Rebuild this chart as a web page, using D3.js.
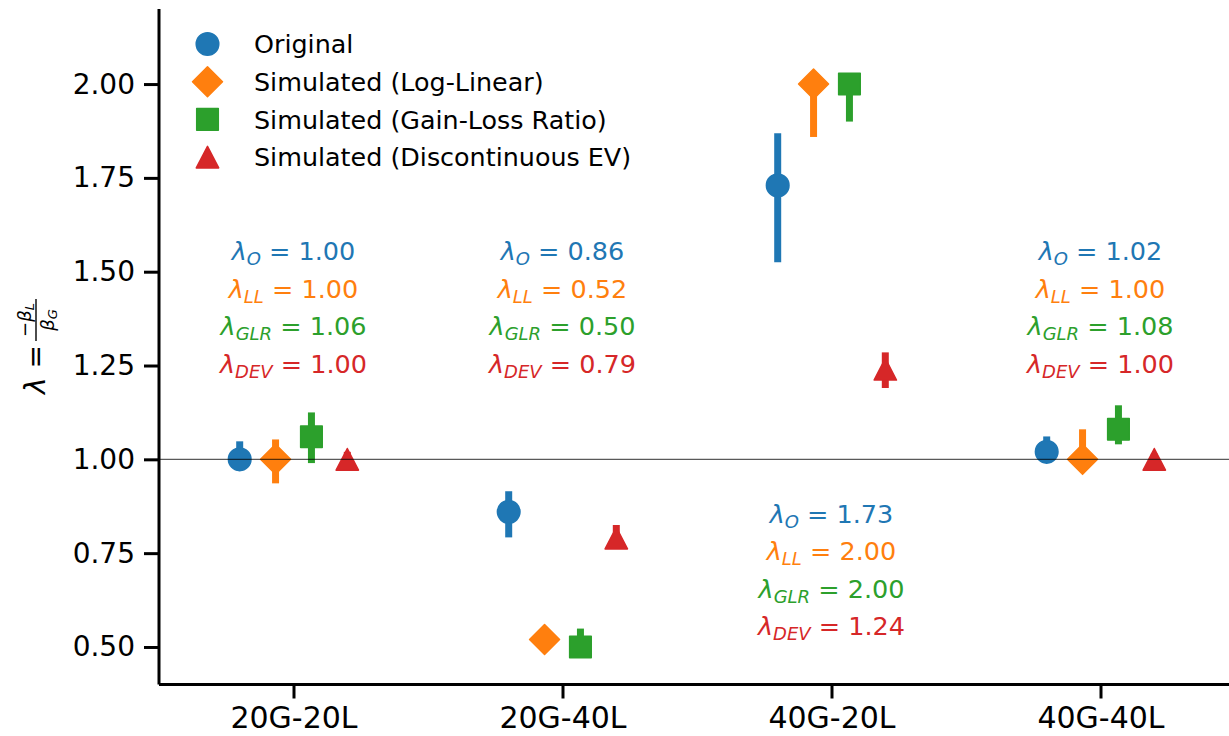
<!DOCTYPE html>
<html><head><meta charset="utf-8">
<script src="https://cdn.jsdelivr.net/npm/d3@7"></script>
<style>body{margin:0;background:#fff} svg{display:block} text{font-family:"DejaVu Sans",sans-serif}</style>
</head><body><svg id="c" width="1229" height="736"></svg>
<script>
// ---- data ----
const categories = ["20G-20L","20G-40L","40G-20L","40G-40L"];
const seriesNames = ["Original","Simulated (Log-Linear)","Simulated (Gain-Loss Ratio)","Simulated (Discontinuous EV)"];
const seriesKeys = ["O","LL","GLR","DEV"];
const valuesO   = [1.00, 0.86, 1.73, 1.02];
const valuesLL  = [1.00, 0.52, 2.00, 1.00];
const valuesGLR = [1.06, 0.50, 2.00, 1.08];
const valuesDEV = [1.00, 0.79, 1.24, 1.00];
const lowO   = [0.97, 0.792, 1.525, 0.99];
const highO  = [1.048, 0.915, 1.869, 1.061];
const lowLL  = [0.936, 0.50, 1.859, 0.97];
const highLL = [1.053, 0.54, 2.00, 1.08];
const lowGLR = [0.99, 0.48, 1.90, 1.04];
const highGLR= [1.125, 0.549, 2.00, 1.144];
const lowDEV = [0.98, 0.77, 1.19, 0.985];
const highDEV= [1.02, 0.825, 1.285, 1.015];
const yTicks = [0.50, 0.75, 1.00, 1.25, 1.50, 1.75, 2.00];

const values = [valuesO, valuesLL, valuesGLR, valuesDEV];
const lows = [lowO, lowLL, lowGLR, lowDEV];
const highs = [highO, highLL, highGLR, highDEV];

// ---- style / layout ----
const colors = ["#1f77b4","#ff7f0e","#2ca02c","#d62728"];
const shapes = ["circle","diamond","square","triangle"];
const offsets = [-0.2, -0.0667, 0.0667, 0.2];

const svg = d3.select("#c");
const x = d3.scaleLinear().domain([-0.5, 3.5]).range([159, 1235]);
const y = d3.scaleLinear().domain([0.4, 2.2]).range([684.5, 9]);

function markerPath(shape, cx, cy) {
  const p = d3.path();
  if (shape === "circle") { p.arc(cx, cy, 11.3, 0, 2*Math.PI); }
  else if (shape === "diamond") { const h = 15; p.moveTo(cx, cy-h); p.lineTo(cx+h, cy); p.lineTo(cx, cy+h); p.lineTo(cx-h, cy); p.closePath(); }
  else if (shape === "square") { const h = 10.8; p.rect(cx-h, cy-h, 2*h, 2*h); }
  else { const w = 11.2, h = 10.8; p.moveTo(cx, cy-h); p.lineTo(cx+w, cy+h); p.lineTo(cx-w, cy+h); p.closePath(); }
  return p.toString();
}

// data layer
const plot = svg.append("g");
values.forEach((vals, s) => {
  const g = plot.append("g");
  categories.forEach((c, i) => {
    const cx = x(i + offsets[s]);
    g.append("line").attr("x1", cx).attr("x2", cx)
      .attr("y1", y(lows[s][i])).attr("y2", y(highs[s][i]))
      .attr("stroke", colors[s]).attr("stroke-width", 7);
    g.append("path").attr("d", markerPath(shapes[s], cx, y(vals[i])))
      .attr("fill", colors[s]).attr("stroke", colors[s]).attr("stroke-width", 1.5)
      .attr("stroke-linejoin", "round");
  });
});

// reference line at 1
svg.append("line").attr("x1", x(-0.5)).attr("x2", x(3.5)).attr("y1", y(1)).attr("y2", y(1))
  .attr("stroke", "#000").attr("stroke-opacity", 0.65).attr("stroke-width", 1.3);

// axes
const yAxis = d3.axisLeft(y).tickValues(yTicks).tickFormat(d3.format(".2f")).tickSize(15).tickPadding(9);
const xAxis = d3.axisBottom(x).tickValues(d3.range(categories.length)).tickFormat(i => categories[i]).tickSize(14).tickPadding(8);
const ya = svg.append("g").attr("transform", `translate(${x(-0.5)},0)`).call(yAxis);
const xa = svg.append("g").attr("transform", `translate(0,${y(0.4)})`).call(xAxis);
[ya, xa].forEach(a => {
  a.select(".domain").attr("stroke", "#000").attr("stroke-width", 3);
  a.selectAll(".tick line").attr("stroke", "#000").attr("stroke-width", 3);
  a.selectAll(".tick text").attr("fill", "#000").style("font-family", '"DejaVu Sans",sans-serif');
});
ya.selectAll(".tick text").style("font-size", "28px");
xa.selectAll(".tick text").style("font-size", "30px");
ya.select(".domain").attr("d", `M0,${y(0.4)}V${y(2.2)}`);
xa.select(".domain").attr("d", `M${x(-0.5)},0H${x(3.5)}`);

// y-axis label: λ = −β_L / β_G
const yl = svg.append("g").attr("transform", "translate(45,346) rotate(-90)");
const lt = yl.append("text").attr("x", -48).attr("y", 0).style("font-size", "28px").attr("fill", "#000");
lt.append("tspan").attr("font-style", "italic").text("λ");
lt.append("tspan").text(" =");
yl.append("line").attr("x1", 5).attr("x2", 47).attr("y1", -9).attr("y2", -9).attr("stroke", "#000").attr("stroke-width", 1.4);
const num = yl.append("text").attr("x", 26).attr("y", -14).attr("text-anchor", "middle").style("font-size", "18px");
num.append("tspan").text("−");
num.append("tspan").attr("font-style", "italic").text("β");
num.append("tspan").attr("font-style", "italic").attr("font-size", "13px").attr("dy", 3).text("L");
const den = yl.append("text").attr("x", 26).attr("y", 9).attr("text-anchor", "middle").style("font-size", "18px");
den.append("tspan").attr("font-style", "italic").text("β");
den.append("tspan").attr("font-style", "italic").attr("font-size", "13px").attr("dy", 3).text("G");

// annotations
const fmt = d3.format(".2f");
const annotRow1 = [1.531, 1.531, 0.831, 1.531];
const lineStep = 37.5;
categories.forEach((c, i) => {
  seriesKeys.forEach((k, s) => {
    const t = svg.append("text").attr("x", x(i)).attr("y", y(annotRow1[i]) + s * lineStep)
      .attr("text-anchor", "middle").attr("fill", colors[s]).style("font-size", "25.5px")
      .style("white-space", "pre");
    t.append("tspan").attr("font-style", "italic").text("λ");
    t.append("tspan").attr("font-style", "italic").attr("font-size", "18px").attr("dy", 5).text(k);
    t.append("tspan").attr("dy", -5).text("\u00a0=\u00a0" + fmt(values[s][i]));
  });
});

// legend
const leg = svg.append("g");
seriesNames.forEach((n, s) => {
  const cy = 44 + s * 37.7;
  leg.append("path").attr("d", markerPath(shapes[s], 207.5, cy))
    .attr("fill", colors[s]).attr("stroke", colors[s]).attr("stroke-width", 1.5).attr("stroke-linejoin", "round");
  leg.append("text").attr("x", 254).attr("y", cy).attr("dy", "0.36em").style("font-size", "25.4px").attr("fill", "#000").text(n);
});
</script></body></html>
